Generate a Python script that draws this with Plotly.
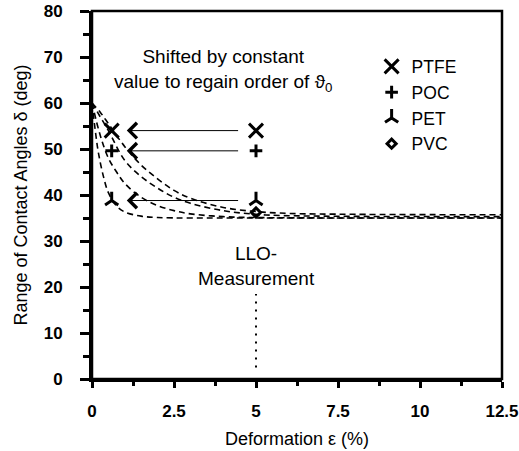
import plotly.graph_objects as go

# ---- data ----
materials = ["PTFE", "POC", "PET", "PVC"]
marker_symbols = ["x-thin-open", "cross-thin-open", "y-up-open", "diamond-open"]
marker_sizes = [14, 9, 11, 7]
# measured (x=5) and shifted (x~0.6) values
x_measured = [5, 5, 5, 5]
y_measured = [54, 49.6, 38.8, 36.2]
x_shifted = [0.6, 0.6, 0.6, None]
y_shifted = [54, 49.6, 38.8, None]

# dashed fit curves
fit1_x = [0, 0.1, 0.2, 0.35, 0.5, 0.75, 1.0, 1.5, 2.0, 3.0, 5.0, 12.5]
fit1_y = [60, 54, 49, 44, 40.5, 37.6, 36.3, 35.4, 35.1, 35.0, 35.0, 35.0]
fit2_x = [0, 0.25, 0.5, 0.75, 1.0, 1.5, 2.0, 2.5, 3.0, 4.0, 5.0, 12.5]
fit2_y = [60, 53, 48, 45, 42.5, 39.5, 37.7, 36.6, 35.9, 35.3, 35.1, 35.0]
fit3_x = [0, 0.25, 0.5, 1.0, 1.5, 2.0, 2.5, 3.0, 4.0, 5.0, 6.0, 12.5]
fit3_y = [60, 57, 54, 47.5, 44, 41.5, 39.5, 38.2, 36.6, 35.8, 35.5, 35.3]
fit4_x = [0, 0.25, 0.5, 1.0, 1.5, 2.0, 2.5, 3.0, 4.0, 5.0, 6.0, 8.0, 12.5]
fit4_y = [60, 58, 55.5, 50.5, 46.5, 43.5, 41, 39.3, 37.3, 36.4, 36.0, 35.8, 35.7]
fits = [(fit1_x, fit1_y), (fit2_x, fit2_y), (fit3_x, fit3_y), (fit4_x, fit4_y)]

# arrows (shift), tail x -> head x at each level
arrow_tail_x = 4.5
arrow_head_x = 1.06
arrow_y = [54, 49.6, 38.8]

# LLO measurement dotted line
llo_x = [5, 5]
llo_y = [2.5, 18.5]

x_ticks = [0, 2.5, 5, 7.5, 10, 12.5]
x_ticktext = ["0", "2.5", "5", "7.5", "10", "12.5"]
y_ticks = [0, 10, 20, 30, 40, 50, 60, 70, 80]

FONT = "Liberation Sans, Arial, sans-serif"

fig = go.Figure()

for fx, fy in fits:
    fig.add_trace(go.Scatter(x=fx, y=fy, mode="lines", showlegend=False,
                             line=dict(color="black", width=1.6, dash="6px,4px", shape="spline"),
                             hoverinfo="skip"))

fig.add_trace(go.Scatter(x=llo_x, y=llo_y, mode="lines", showlegend=False,
                         line=dict(color="black", width=2, dash="2px,6px")))

for i, m in enumerate(materials):
    xs = [x_measured[i]] + ([x_shifted[i]] if x_shifted[i] is not None else [])
    ys = [y_measured[i]] + ([y_shifted[i]] if y_shifted[i] is not None else [])
    fig.add_trace(go.Scatter(x=xs, y=ys, mode="markers", name=m,
                             marker=dict(symbol=marker_symbols[i], size=marker_sizes[i],
                                         color="black",
                                         line=dict(color="black", width=3))))

for yv in arrow_y:
    fig.add_annotation(x=arrow_head_x, y=yv, ax=arrow_tail_x, ay=yv,
                       xref="x", yref="y", axref="x", ayref="y",
                       showarrow=True, arrowhead=4, arrowsize=3, arrowwidth=1,
                       arrowcolor="black", text="")

fig.add_annotation(x=4.0, y=67, xref="x", yref="y", showarrow=False,
                   text="Shifted by constant<br>value to regain order of ϑ<sub>0</sub>",
                   font=dict(family=FONT, size=19, color="black"), align="center")
fig.add_annotation(x=5, y=24.6, xref="x", yref="y", showarrow=False,
                   text="LLO-<br>Measurement",
                   font=dict(family=FONT, size=19, color="black"), align="center")

fig.add_shape(type="rect", xref="paper", yref="paper", x0=0, y0=0, x1=1, y1=1,
              line=dict(color="black", width=2.5))

fig.update_layout(
    width=519, height=451,
    margin=dict(l=92, r=17, t=11, b=72),
    plot_bgcolor="white", paper_bgcolor="white",
    font=dict(family=FONT, size=18, color="black"),
    legend=dict(x=0.682, y=0.898, xanchor="left", yanchor="top",
                bgcolor="rgba(0,0,0,0)", font=dict(family=FONT, size=17.5),
                itemsizing="trace"),
    xaxis=dict(range=[0, 12.5], tickvals=x_ticks, ticktext=x_ticktext, automargin=False,
               showgrid=False, zeroline=False, showline=True, linecolor="black", linewidth=3,
               ticks="outside", ticklen=6, tickwidth=2.5, tickcolor="black",
               minor=dict(dtick=1.25, ticks="outside", ticklen=4, tickwidth=2.5, tickcolor="black"),
               tickfont=dict(family=FONT, size=17, weight="bold"), ticklabelstandoff=9,
               title=dict(text="Deformation ε (%)", font=dict(family=FONT, size=18), standoff=12)),
    yaxis=dict(range=[0, 80], tickvals=y_ticks, automargin=False,
               showgrid=False, zeroline=False, showline=True, linecolor="black", linewidth=3,
               ticks="outside", ticklen=9, tickwidth=2.5, tickcolor="black",
               minor=dict(dtick=5, ticks="outside", ticklen=6, tickwidth=2.5, tickcolor="black"),
               tickfont=dict(family=FONT, size=17, weight="bold"), ticklabelstandoff=14,
               title=dict(text="Range of Contact Angles δ (deg)", font=dict(family=FONT, size=18), standoff=12)),
)

fig.write_html("out.html")
